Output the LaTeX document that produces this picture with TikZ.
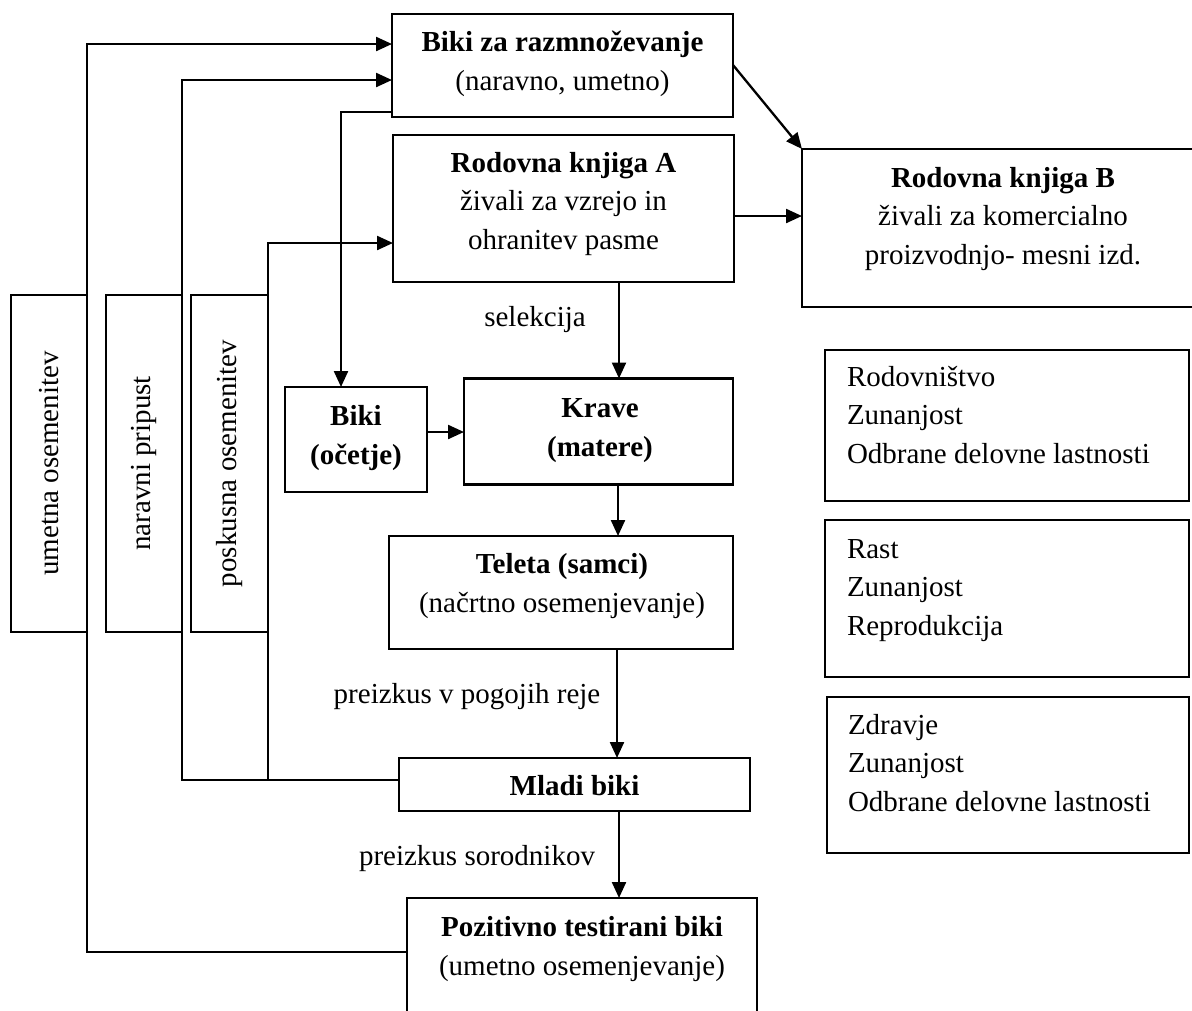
\documentclass[tikz,border=0pt]{standalone}
\usepackage{fontspec}
\setmainfont{Liberation Serif}
\usetikzlibrary{arrows.meta}
\tikzset{
  every node/.style={font=\fontsize{29}{38.5}\selectfont, inner sep=0pt, outer sep=0pt},
  box/.style={draw, line width=2.3pt, rectangle},
  txt/.style={anchor=base, align=center},
  ltxt/.style={anchor=base west, align=left},
  arr/.style={line width=2.3pt, -{Triangle[length=16pt,width=14pt]}},
  ln/.style={line width=2.3pt}
}
\begin{document}
\begin{tikzpicture}[x=1pt,y=-1pt]
\useasboundingbox (0,0) rectangle (1192,1010);
\clip (0,0) rectangle (1192,1010);
% boxes
\node[box, minimum width=341pt, minimum height=103pt] (bz) at (562.5,65.5) {};
\node[box, minimum width=341pt, minimum height=147pt] (ra) at (563.5,208.5) {};
\node[box, minimum width=402pt, minimum height=158pt] (rb) at (1003,228) {};
\node[box, minimum width=142pt, minimum height=105pt] (bo) at (356,439.5) {};
\node[box, minimum width=269pt, minimum height=106pt] (kr) at (598.5,431.5) {};
\node[box, minimum width=344pt, minimum height=113pt] (te) at (561,592.5) {};
\node[box, minimum width=351pt, minimum height=53pt] (ml) at (574.5,784.5) {};
\node[box, minimum width=350pt, minimum height=132pt] (po) at (582,964) {};
\node[box, minimum width=76pt, minimum height=337pt] (um) at (49,463.5) {};
\node[box, minimum width=76pt, minimum height=337pt] (na) at (144,463.5) {};
\node[box, minimum width=77pt, minimum height=337pt] (ps) at (229.5,463.5) {};
\node[box, minimum width=364pt, minimum height=151pt] (r1) at (1007,425.5) {};
\node[box, minimum width=364pt, minimum height=157pt] (r2) at (1007,598.5) {};
\node[box, minimum width=362pt, minimum height=156pt] (r3) at (1008,775) {};
% texts (anchor = baseline of last line)
\node[txt] (tbz) at (562.5,90) {\textbf{Biki za razmnoževanje}\\(naravno, umetno)};
\node[txt] (tra) at (563.5,249) {\textbf{Rodovna knjiga A}\\živali za vzrejo in\\ohranitev pasme};
\node[txt] (trb) at (1003,264) {\textbf{Rodovna knjiga B}\\živali za komercialno\\proizvodnjo- mesni izd.};
\node[txt] (tbo) at (356,464) {\textbf{Biki}\\\textbf{(očetje)}};
\node[txt] (tkr) at (600,456) {\textbf{Krave}\\\textbf{(matere)}};
\node[txt] (tte) at (562,612) {\textbf{Teleta (samci)}\\(načrtno osemenjevanje)};
\node[txt] (tml) at (574.5,795) {\textbf{Mladi biki}};
\node[txt] (tpo) at (582,975) {\textbf{Pozitivno testirani biki}\\(umetno osemenjevanje)};
\node[rotate=90] (tum) at (um.center) {umetna osemenitev};
\node[rotate=90] (tna) at (na.center) {naravni pripust};
\node[rotate=90] (tps) at (ps.center) {poskusna osemenitev};
\node[ltxt] (tr1) at (847,463) {Rodovništvo\\Zunanjost\\Odbrane delovne lastnosti};
\node[ltxt] (tr2) at (847,635) {Rast\\Zunanjost\\Reprodukcija};
\node[ltxt] (tr3) at (848,811) {Zdravje\\Zunanjost\\Odbrane delovne lastnosti};
% labels
\node[txt] (lsel) at (535,326) {selekcija};
\node[txt] (lpog) at (467,703) {preizkus v pogojih reje};
\node[txt] (lsor) at (477,865) {preizkus sorodnikov};
% connectors
\coordinate (j1) at (268,780);
\draw[arr] (po.west |- 0,952) -| (87,44) -- (bz.west |- 0,44);
\draw[arr] (ml.west |- 0,780) -| (182,80) -- (bz.west |- 0,80);
\draw[arr] (j1) |- (ra.west |- 0,243);
\draw[arr] (bz.west |- 0,112) -| (bo.north -| 341,0);
\draw[arr] (bz.east |- 0,65) -- (rb.north west);
\draw[arr] (ra.east |- 0,216) -- (rb.west |- 0,216);
\draw[arr] (ra.south -| 619,0) -- (kr.north -| 619,0);
\draw[arr] (bo.east |- 0,432) -- (kr.west |- 0,432);
\draw[arr] (kr.south -| 618,0) -- (te.north -| 618,0);
\draw[arr] (te.south -| 617,0) -- (ml.north -| 617,0);
\draw[arr] (ml.south -| 619,0) -- (po.north -| 619,0);
\end{tikzpicture}
\end{document}
